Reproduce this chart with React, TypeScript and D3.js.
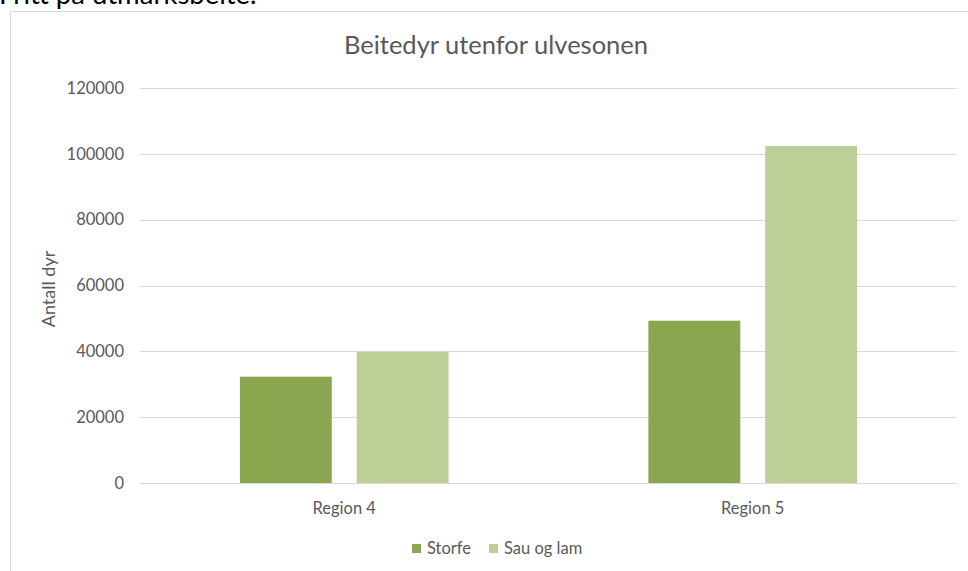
import React from 'react';
import * as d3 from 'd3';

const categories = ['Region 4', 'Region 5'];
const seriesNames = ['Storfe', 'Sau og lam'];
const storfe = [32300, 49300];
const sauOgLam = [39900, 102400];
const yTicks = [0, 20000, 40000, 60000, 80000, 100000, 120000];
const colors = ['#8aa64f', '#bbcf97'];

const W = 968;
const H = 571;
const font = 'Lato, "Open Sans", sans-serif';

const App: React.FC = () => {
    const left = 140;
    const right = 957;
    const top = 88;
    const bottom = 483;

    const x = d3.scaleBand<string>().domain(categories).range([left, right]).paddingInner(0).paddingOuter(0);
    const y = d3.scaleLinear().domain([0, 120000]).range([bottom, top]);

    // Balken je Kategorie: ca. 92px breit, 25px Abstand
    const barW = x.bandwidth() * 0.225;
    const gap = x.bandwidth() * 0.061;
    const series = [storfe, sauOgLam];

    return (
        <svg width={W} height={H} style={{position: 'absolute', left: 0, top: 0, background: '#fff'}}>
            <text x={-1} y={4} fontFamily={font} fontSize={27.5} fill="#000">Fritt på utmarksbeite.</text>
            <rect x={10.5} y={11.5} width={1200} height={1000} fill="#fff" stroke="#d9d9d9" strokeWidth={1}/>

            <text x={496} y={54} textAnchor="middle" fontFamily={font} fontSize={25.5} fill="#595959">
                Beitedyr utenfor ulvesonen
            </text>

            {yTicks.map(t => (
                <g key={t}>
                    <line x1={left} x2={right} y1={Math.round(y(t)) + 0.5} y2={Math.round(y(t)) + 0.5}
                          stroke="#d9d9d9" strokeWidth={1}/>
                    <text x={124} y={y(t)} dy="0.35em" textAnchor="end" fontFamily={font} fontSize={16.5}
                          fill="#595959">{t}</text>
                </g>
            ))}

            <text transform={`translate(55, 289) rotate(-90)`} textAnchor="middle"
                  fontFamily={font} fontSize={18} fill="#595959">Antall dyr</text>

            {categories.map((c, ci) => {
                const cx = x(c)! + x.bandwidth() / 2;
                const groupW = barW * 2 + gap;
                return (
                    <g key={c}>
                        {series.map((s, si) => {
                            const bx = cx - groupW / 2 + si * (barW + gap);
                            return (
                                <rect key={si} x={bx} y={y(s[ci])} width={barW} height={y(0) - y(s[ci])}
                                      fill={colors[si]}/>
                            );
                        })}
                        <text x={cx} y={508} dy="0.35em" textAnchor="middle" fontFamily={font} fontSize={16.5}
                              fill="#595959">{c}</text>
                    </g>
                );
            })}

            {/* Legende */}
            {seriesNames.map((n, i) => {
                const lx = i === 0 ? 412 : 489;
                return (
                    <g key={n}>
                        <rect x={lx} y={544} width={9} height={9} fill={colors[i]}/>
                        <text x={lx + 15} y={548.5} dy="0.35em" fontFamily={font} fontSize={16.5} fill="#595959">{n}</text>
                    </g>
                );
            })}
        </svg>
    );
};

export default App;
